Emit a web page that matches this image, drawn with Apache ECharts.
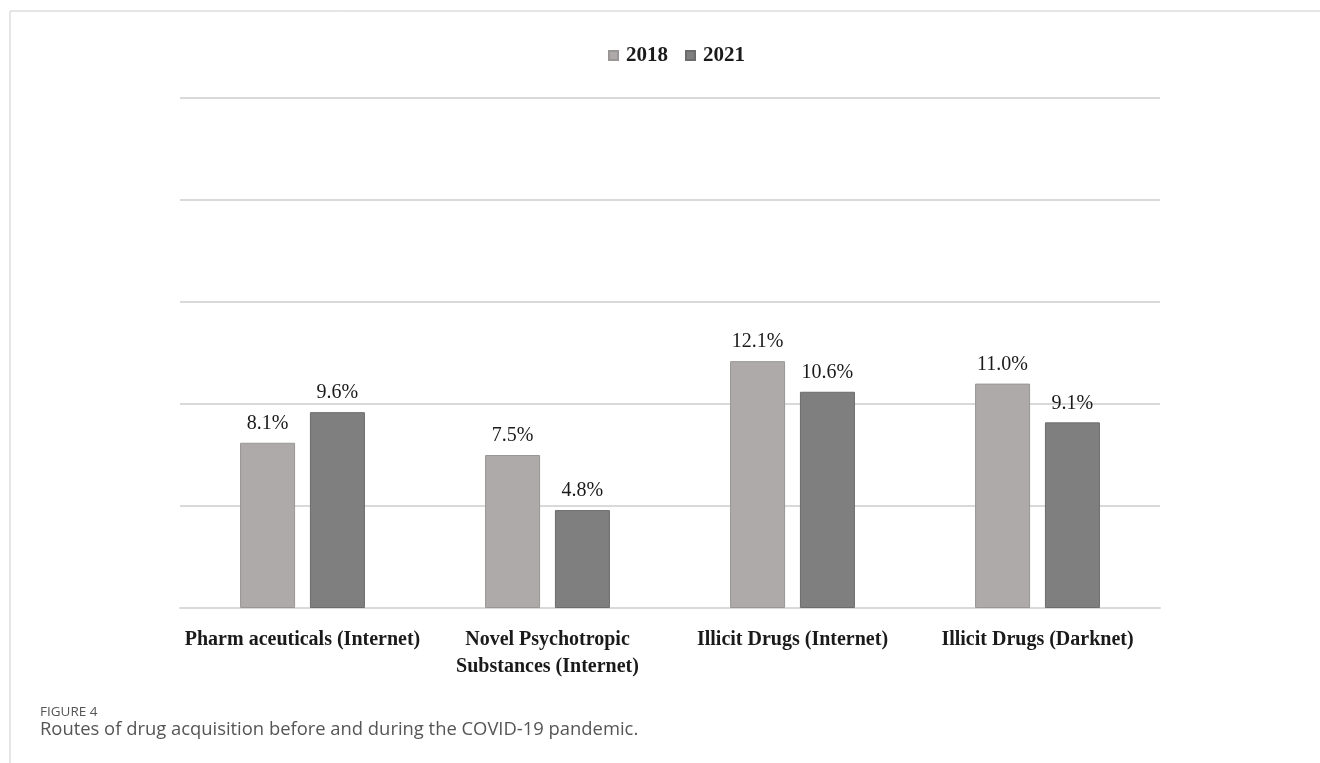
<!DOCTYPE html>
<html><head><meta charset="utf-8">
<script src="https://cdn.jsdelivr.net/npm/echarts@6/dist/echarts.min.js"></script>
<style>html,body{margin:0;padding:0;background:#fff}#c{width:1320px;height:763px}</style>
</head><body><div id="c"></div>
<script>
const categories = ['Pharm aceuticals (Internet)', 'Novel Psychotropic\nSubstances (Internet)', 'Illicit Drugs (Internet)', 'Illicit Drugs (Darknet)'];
const seriesNames = ['2018', '2021'];
const values2018 = [8.1, 7.5, 12.1, 11.0];
const values2021 = [9.6, 4.8, 10.6, 9.1];
const captionTitle = 'FIGURE 4';
const captionText = 'Routes of drug acquisition before and during the COVID-19 pandemic.';

const chart = echarts.init(document.getElementById('c'));
const serif = '"Liberation Serif", "Times New Roman", serif';
const lbl = {show: true, position: 'top', distance: 9, fontFamily: serif, fontSize: 20, color: '#1a1a1a', formatter: p => p.value.toFixed(1) + '%'};
chart.setOption({
  animation: false,
  legend: {top: 40, left: 603, itemWidth: 9, itemHeight: 9, itemGap: 17, icon: 'rect',
    textStyle: {fontFamily: serif, fontSize: 21, fontWeight: 'bold', color: '#1a1a1a', padding: [0, 0, 0, 3]}, data: seriesNames},
  grid: {left: 180, right: 160, top: 98, bottom: 155, containLabel: false},
  xAxis: {type: 'category', data: categories,
    axisLine: {lineStyle: {color: '#d9d9d9', width: 2}}, axisTick: {show: false},
    axisLabel: {fontFamily: serif, fontSize: 20, fontWeight: 'bold', color: '#1a1a1a', margin: 18, lineHeight: 27, interval: 0}},
  yAxis: {type: 'value', min: 0, max: 25, interval: 5,
    axisLabel: {show: false}, axisLine: {show: false}, axisTick: {show: false},
    splitLine: {lineStyle: {color: '#d9d9d9', width: 2}}},
  series: [
    {name: seriesNames[0], type: 'bar', data: values2018, barWidth: 55, barGap: '27%',
      itemStyle: {color: '#aeaaaa', borderColor: '#9a9696', borderWidth: 1}, label: lbl},
    {name: seriesNames[1], type: 'bar', data: values2021, barWidth: 55,
      itemStyle: {color: '#7f7f7f', borderColor: '#6c6c6c', borderWidth: 1}, label: lbl}
  ],
  graphic: [
    {type: 'line', shape: {x1: 10, y1: 11, x2: 1320, y2: 11}, style: {stroke: '#cccccc', lineWidth: 1}},
    {type: 'line', shape: {x1: 10, y1: 11, x2: 10, y2: 763}, style: {stroke: '#cccccc', lineWidth: 1}},
    {type: 'text', left: 40, top: 705, style: {text: captionTitle, fontFamily: '"Open Sans", sans-serif', fontSize: 13.5, fill: '#555'}},
    {type: 'text', left: 40, top: 721, style: {text: captionText, fontFamily: '"Open Sans", sans-serif', fontSize: 18.4, fill: '#555'}}
  ]
});
</script></body></html>
